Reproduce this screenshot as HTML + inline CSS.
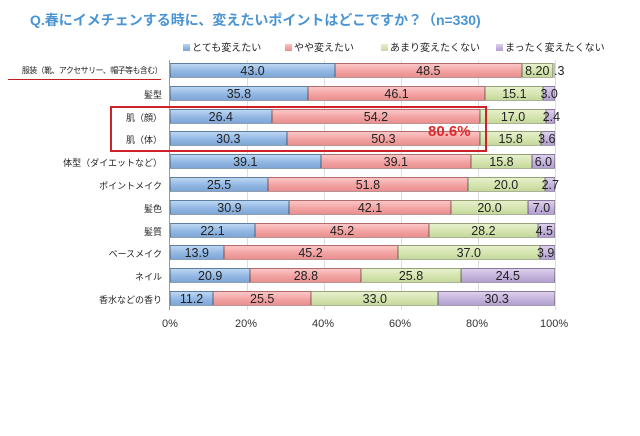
<!DOCTYPE html><html><head><meta charset="utf-8"><style>
body{margin:0;width:640px;height:436px;background:#fff;position:relative;font-family:"Liberation Sans","Noto Sans CJK JP",sans-serif;overflow:hidden}
.a{position:absolute;white-space:nowrap}
.bar{position:absolute;height:15px;display:flex}
.bar div{height:100%;box-sizing:border-box;border:1px solid rgba(0,0,0,.25);text-align:center;font-size:12.5px;line-height:14px;color:#222;overflow:visible}
.b{background:linear-gradient(#bcd6f2,#8fb5e2 60%,#7fa6d6)}
.r{background:linear-gradient(#fbc6c6,#f2a0a0 60%,#e99090)}
.g{background:linear-gradient(#e6f0cc,#d3e3ad 60%,#c5d89c)}
.p{background:linear-gradient(#ddd0ec,#c2b1da 60%,#b3a0cf)}
.lab{position:absolute;right:478px;font-size:9px;color:#222;white-space:nowrap}
.grid{position:absolute;top:60px;height:250px;width:1px;background:#ddd}
.lg{position:absolute;top:39px;font-size:10px;color:#222}
.lg span{display:inline-block;width:7px;height:7px;margin-right:2px}
.t{position:absolute;top:318px;font-size:11px;color:#333}
</style></head><body>
<div class="a" style="left:30px;top:10px;font-size:14px;font-weight:bold;color:#4a94d4">Q.春にイメチェンする時に、変えたいポイントはどこですか？（n=330)</div>
<div class="lg" style="left:183px"><span class="b"></span>とても変えたい</div>
<div class="lg" style="left:285px"><span class="r"></span>やや変えたい</div>
<div class="lg" style="left:381px"><span class="g"></span>あまり変えたくない</div>
<div class="lg" style="left:496px"><span class="p"></span>まったく変えたくない</div>
<div class="grid" style="left:247px"></div><div class="grid" style="left:324px"></div><div class="grid" style="left:401px"></div><div class="grid" style="left:478px"></div><div class="grid" style="left:555px"></div>
<div style="position:absolute;left:169px;top:60px;width:1px;height:250px;background:#999"></div>
<div id="rows"></div>
<div style="position:absolute;left:110px;top:106px;width:377px;height:46px;border:2px solid #d0202a;box-sizing:border-box"></div>
<div class="a" style="left:428px;top:123px;font-size:15px;font-weight:bold;color:#e02a2a">80.6%</div>
<div style="position:absolute;left:8px;top:79px;width:153px;height:1px;background:#c02020"></div>
<div class="t" style="left:162px">0%</div><div class="t" style="left:235px">20%</div><div class="t" style="left:312px">40%</div><div class="t" style="left:389px">60%</div><div class="t" style="left:466px">80%</div><div class="t" style="left:540px">100%</div>
<script>
var d=[["服装（靴、アクセサリー、帽子等も含む）",43.0,48.5,8.2,0.3],["髪型",35.8,46.1,15.1,3.0],["肌（顔）",26.4,54.2,17.0,2.4],["肌（体）",30.3,50.3,15.8,3.6],["体型（ダイエットなど）",39.1,39.1,15.8,6.0],["ポイントメイク",25.5,51.8,20.0,2.7],["髪色",30.9,42.1,20.0,7.0],["髪質",22.1,45.2,28.2,4.5],["ベースメイク",13.9,45.2,37.0,3.9],["ネイル",20.9,28.8,25.8,24.5],["香水などの香り",11.2,25.5,33.0,30.3]];
var h="",c=["b","r","g","p"];
d.forEach(function(r,i){var y=63+i*22.8;
h+='<div class="lab" style="top:'+(y+2)+'px;'+(i==0?'font-size:8px;letter-spacing:-0.6px;':'')+'">'+r[0]+'</div><div class="bar" style="left:170px;top:'+y+'px;width:385px">';
for(var k=1;k<5;k++){var w=r[k]*3.85;var s=r[k].toFixed(1);if(i==0&&k==3)s='8.20';h+='<div class="'+c[k-1]+'" style="width:'+w+'px;'+(w<20?'text-indent:-4px;':'')+'">'+(i==0&&k==4?'<span style="position:relative;left:4px">.3</span>':s)+'</div>';}
h+='</div>';});
document.getElementById("rows").innerHTML=h;
</script>
</body></html>
